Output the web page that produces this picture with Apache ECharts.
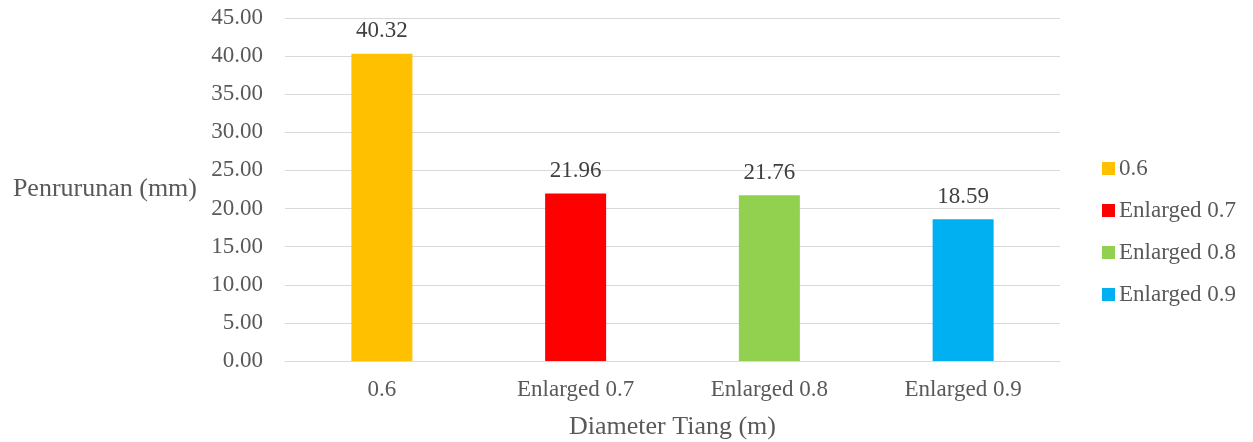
<!DOCTYPE html>
<html>
<head>
<meta charset="utf-8">
<script src="https://cdn.jsdelivr.net/npm/echarts@6/dist/echarts.min.js"></script>
<style>
  html, body { margin: 0; padding: 0; background: #fff; }
  #chart { width: 1253px; height: 442px; }
</style>
</head>
<body>
<div id="chart"></div>
<script>
// Settlement per pile diameter
const categories = ['0.6', 'Enlarged 0.7', 'Enlarged 0.8', 'Enlarged 0.9'];
const settlement = [40.32, 21.96, 21.76, 18.59];
const colors = ['#FFC000', '#FF0000', '#92D050', '#00B0F0'];
const yTicks = { min: 0, max: 45, interval: 5 };

const FONT = '"Liberation Serif", "Times New Roman", serif';
const TEXT = '#595959';

// One series per category so each gets its own legend entry; stacking keeps bars centred.
const series = categories.map((name, i) => ({
  name: name,
  type: 'bar',
  stack: 'all',
  barWidth: 61,
  itemStyle: { color: colors[i] },
  label: {
    show: true,
    position: 'top',
    distance: 11,
    fontFamily: FONT,
    fontSize: 23,
    color: '#404040',
    formatter: p => p.value == null ? '' : Number(p.value).toFixed(2)
  },
  data: categories.map((c, j) => (j === i ? settlement[i] : null))
}));

const chart = echarts.init(document.getElementById('chart'), null, { renderer: 'canvas' });
chart.setOption({
  animation: false,
  backgroundColor: '#fff',
  textStyle: { fontFamily: FONT },
  grid: { left: 285, right: 193, top: 18, bottom: 81, containLabel: false, outerBoundsMode: 'none' },
  legend: {
    orient: 'vertical',
    left: 1097,
    top: 152,
    itemWidth: 13,
    itemHeight: 13,
    itemGap: 19,
    icon: 'rect',
    textStyle: { fontFamily: FONT, fontSize: 23, color: TEXT, padding: [0, 0, 0, -1] },
    data: categories
  },
  xAxis: {
    type: 'category',
    data: categories,
    name: 'Diameter Tiang (m)',
    nameLocation: 'middle',
    nameGap: 53,
    nameMoveOverlap: false,
    nameTextStyle: { fontFamily: FONT, fontSize: 26, color: TEXT },
    axisLine: { show: true, lineStyle: { color: '#d9d9d9', width: 1 } },
    axisTick: { show: false },
    axisLabel: { fontFamily: FONT, fontSize: 23, color: TEXT, margin: 17 }
  },
  yAxis: {
    type: 'value',
    min: yTicks.min,
    max: yTicks.max,
    interval: yTicks.interval,
    name: 'Penrurunan (mm)',
    nameLocation: 'middle',
    nameRotate: 0,
    nameGap: 88,
    nameMoveOverlap: false,
    nameTextStyle: { fontFamily: FONT, fontSize: 26, color: TEXT },
    axisLine: { show: false },
    axisTick: { show: false },
    axisLabel: {
      fontFamily: FONT, fontSize: 23, color: TEXT, margin: 22,
      formatter: v => v.toFixed(2)
    },
    splitLine: { show: true, lineStyle: { color: '#d9d9d9', width: 1 } }
  },
  series: series
});
</script>
</body>
</html>
